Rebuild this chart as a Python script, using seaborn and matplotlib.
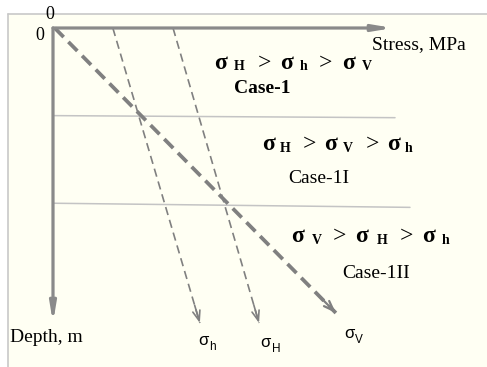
import matplotlib
matplotlib.use("Agg")
import matplotlib.pyplot as plt
import seaborn as sns
import pandas as pd
from matplotlib.patches import Rectangle
from matplotlib.lines import Line2D

# ---------------- data ----------------
stress_names = ["σh", "σH", "σV"]
surface_stress = [17.6, 35.3, 0.5]     # stress at depth 0
deep_stress = [43.2, 60.6, 83.2]       # stress at arrow tip
deep_depth = [100.0, 100.0, 96.6]      # depth at arrow tip
boundary_depth_left = [29.7, 59.4]     # case boundaries (left end)
boundary_depth_right = [30.4, 60.8]    # case boundaries (right end)
boundary_stress_end = [100.6, 105.0]
axis_stress_max = 100
axis_depth_max = 100

W, H = 487, 367
sns.set_theme(style="white")
plt.rcParams["font.family"] = ["Liberation Serif", "DejaVu Sans"]

fig = plt.figure(figsize=(W / 100, H / 100), dpi=100)
fig.patch.set_facecolor("white")

# background panel with top/left border
fig.patches.append(Rectangle((8 / W, 0), 1, 1 - 14 / H, transform=fig.transFigure,
                             facecolor="#fffff3", edgecolor="none", zorder=-5))
fig.lines.append(Line2D([8 / W, 1], [1 - 14 / H, 1 - 14 / H], transform=fig.transFigure,
                        color="#c8c8c8", lw=1.2, zorder=-4))
fig.lines.append(Line2D([8 / W, 8 / W], [0, 1 - 14 / H], transform=fig.transFigure,
                        color="#c8c8c8", lw=1.2, zorder=-4))

ax = fig.add_axes([0, 0, 1, 1])
ax.set_zorder(1)
ax.set_facecolor("none")
sx, sy = 3.4, 2.95
ax.set_xlim(-53 / sx, (W - 53) / sx)
ax.set_ylim((H - 28) / sy, -28 / sy)
ax.axis("off")

gray = "#808080"

# case boundaries
for dl, dr, se in zip(boundary_depth_left, boundary_depth_right, boundary_stress_end):
    df = pd.DataFrame({"s": [0, se], "d": [dl, dr]})
    sns.lineplot(data=df, x="s", y="d", ax=ax, color="#c4c4c4", lw=1.1,
                 sort=False, estimator=None)

# stress lines
styles = {
    "σh": dict(lw=1.2, dashes=(5, 3)),
    "σH": dict(lw=1.2, dashes=(5, 3)),
    "σV": dict(lw=2.7, dashes=(3.4, 1.8)),
}
for name, s0, s1, d1 in zip(stress_names, surface_stress, deep_stress, deep_depth):
    df = pd.DataFrame({"s": [s0, s1], "d": [0, d1]})
    st = styles[name]
    sns.lineplot(data=df, x="s", y="d", ax=ax, color=gray, lw=st["lw"],
                 sort=False, estimator=None)
    ax.lines[-1].set_dashes(st["dashes"])
    back = (s1 - 0.06 * (s1 - s0), d1 - 0.06 * d1)
    ax.annotate("", xy=(s1, d1), xytext=back,
                arrowprops=dict(arrowstyle="->,head_length=0.6,head_width=0.22",
                                color=gray, lw=min(st["lw"], 1.6), shrinkA=0, shrinkB=0))

# axes arrows
axcol = "#8a8a8a"
ax.annotate("", xy=(axis_stress_max, 0), xytext=(0, 0),
            arrowprops=dict(arrowstyle="-|>,head_length=0.9,head_width=0.15",
                            color=axcol, lw=2.3, shrinkA=0, shrinkB=0))
ax.annotate("", xy=(0, axis_depth_max), xytext=(0, 0),
            arrowprops=dict(arrowstyle="-|>,head_length=0.9,head_width=0.15",
                            color=axcol, lw=2.3, shrinkA=0, shrinkB=0))


def ptext(x, y, s, size, weight="normal", family="Liberation Serif"):
    fig.text(x / W, 1 - y / H, s, fontsize=size, fontweight=weight,
             family=[family, "DejaVu Sans"], ha="left", va="baseline", color="black",
             zorder=5)


ptext(45, 19, "0", 13)
ptext(35, 39.5, "0", 13)
ptext(372, 49, "Stress, MPa", 14)
ptext(10, 342, "Depth, m", 14)

big, sub = 17, 10
rows = [
    (69, [(214, "σ", 0), (234, "H", 1), (258, ">", 2), (280, "σ", 0), (300, "h", 1),
          (319, ">", 2), (342, "σ", 0), (362, "V", 1)]),
    (150, [(262, "σ", 0), (280, "H", 1), (303, ">", 2), (324, "σ", 0), (343, "V", 1),
           (366, ">", 2), (387, "σ", 0), (405, "h", 1)]),
    (242, [(291, "σ", 0), (312, "V", 1), (333, ">", 2), (355, "σ", 0), (377, "H", 1),
           (400, ">", 2), (422, "σ", 0), (442, "h", 1)]),
]
for base, pieces in rows:
    for x, s, kind in pieces:
        if kind == 0:
            ptext(x, base, s, big, "bold")
        elif kind == 1:
            ptext(x, base + 1.5, s, sub, "bold")
        else:
            ptext(x, base, s, big)

ptext(234, 93, "Case-1", 14, "bold")
ptext(288, 183, "Case-1I", 14)
ptext(342, 278, "Case-1II", 14)

# bottom sigma labels (sans)
lab = [(198, 345, "σ", 209, 350, "h"), (260, 347, "σ", 272, 352, "H"),
       (344, 338, "σ", 355, 343, "V")]
for x, y, s, xs, ys, ss in lab:
    ptext(x, y, s, 12, family="Liberation Sans")
    ptext(xs, ys, ss, 8.5, family="Liberation Sans")

fig.savefig("out.png", dpi=100, facecolor=fig.get_facecolor())
